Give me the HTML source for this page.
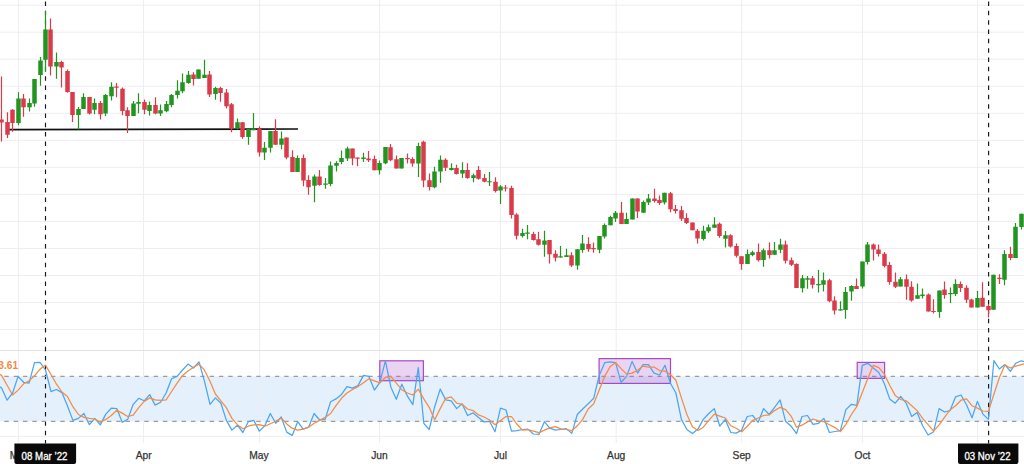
<!DOCTYPE html>
<html><head><meta charset="utf-8"><title>Chart</title>
<style>html,body{margin:0;padding:0;background:#fff;}body{width:1024px;height:464px;overflow:hidden;font-family:"Liberation Sans",sans-serif;}svg{display:block;}text{font-family:"Liberation Sans",sans-serif;}</style>
</head><body>
<svg width="1024" height="464" viewBox="0 0 1024 464">
<rect x="0" y="0" width="1024" height="464" fill="#ffffff"/>
<rect x="0" y="376.3" width="1024" height="45" fill="#e4f0fc"/>
<path d="M18.6 0V443 M143.6 0V443 M259.6 0V443 M379.5 0V443 M500.5 0V443 M616.2 0V443 M741.7 0V443 M862.4 0V443 M977.4 0V443 M0 5.2H1024 M0 32.2H1024 M0 59.2H1024 M0 86.2H1024 M0 113.3H1024 M0 140.3H1024 M0 167.3H1024 M0 194.4H1024 M0 221.4H1024 M0 248.4H1024 M0 275.5H1024 M0 302.5H1024 M0 329.5H1024 M0 405.8H1024 M0 436.3H1024" stroke="#edeef2" stroke-width="1" fill="none"/>
<path d="M0 350.5H1024" stroke="#e2e2e2" stroke-width="1" fill="none"/>
<path d="M45.5 1.5V443.5" stroke="#161616" stroke-width="1.15" stroke-dasharray="4.5 4.83" fill="none"/>
<path d="M988.6 1.5V443.5" stroke="#161616" stroke-width="1.15" stroke-dasharray="4.5 4.83" fill="none"/>
<path d="M6 129.7L298 129.0" stroke="#111" stroke-width="1.7" fill="none"/>
<path d="M18.5 92.3V125.3 M29.5 98.6V111.6 M34.5 79.0V106.8 M40.5 56.9V85.8 M45.5 10.8V72.0 M56.5 52.6V78.8 M78.5 107.0V129.4 M83.5 93.3V109.0 M94.5 98.6V114.2 M105.5 94.0V116.0 M111.5 82.3V100.5 M133.5 101.0V116.1 M138.5 93.3V113.2 M149.5 101.5V115.5 M160.5 104.4V116.1 M166.5 101.0V112.2 M171.5 94.0V107.3 M177.5 80.3V98.6 M182.5 73.5V93.3 M188.5 71.0V83.8 M198.5 69.5V78.7 M204.5 59.8V77.9 M215.5 86.7V99.8 M237.5 118.6V129.6 M248.5 129.0V144.7 M253.5 112.9V130.3 M264.5 142.0V159.9 M270.5 131.0V152.5 M281.5 131.6V149.2 M297.5 155.4V172.0 M314.5 174.6V202.3 M325.5 177.9V188.8 M330.5 161.5V186.3 M336.5 161.3V171.6 M341.5 150.5V164.2 M347.5 146.8V160.9 M363.5 152.7V161.9 M379.5 160.5V174.6 M385.5 147.0V164.2 M401.5 157.9V168.5 M418.5 142.7V176.9 M434.5 166.7V188.2 M440.5 155.4V182.7 M451.5 163.2V170.4 M462.5 162.2V177.9 M473.5 173.4V182.3 M489.5 172.0V186.0 M500.5 185.3V204.0 M522.5 228.8V237.6 M527.5 224.9V239.2 M544.5 230.8V256.8 M560.5 246.0V257.5 M566.5 248.8V257.1 M577.5 249.3V269.8 M582.5 235.1V252.7 M599.5 236.0V253.2 M604.5 223.4V238.6 M610.5 215.7V225.3 M615.5 210.9V222.0 M626.5 212.8V223.9 M632.5 198.6V219.5 M643.5 200.5V212.8 M648.5 194.0V205.0 M664.5 192.7V204.4 M703.5 225.8V240.6 M708.5 224.4V232.8 M714.5 217.2V227.7 M725.5 230.9V247.5 M747.5 249.4V264.1 M752.5 250.8V256.2 M763.5 248.4V266.8 M774.5 242.0V254.7 M780.5 238.7V253.3 M802.5 275.1V292.6 M807.5 276.0V288.8 M818.5 269.9V292.6 M823.5 272.6V291.4 M840.5 301.2V310.5 M845.5 287.1V318.8 M851.5 285.2V300.8 M862.5 261.4V288.5 M867.5 242.0V264.4 M900.5 277.0V286.5 M917.5 283.6V298.8 M922.5 288.5V298.4 M939.5 290.4V317.8 M950.5 287.5V303.1 M955.5 279.2V295.9 M977.5 291.0V307.6 M993.5 274.7V309.8 M1004.5 250.3V285.3 M1015.5 223.0V257.9 M1021.5 213.8V229.4" stroke="#229420" stroke-width="1.2" fill="none"/>
<path d="M1.5 76.4V141.5 M7.5 112.2V138.0 M12.5 109.3V131.8 M23.5 94.0V116.7 M50.5 18.5V75.4 M61.5 60.8V87.5 M67.5 69.6V92.7 M72.5 92.0V122.0 M89.5 97.0V114.4 M100.5 101.0V119.6 M116.5 83.0V97.2 M122.5 87.4V115.2 M127.5 107.3V133.1 M144.5 99.5V114.2 M155.5 97.2V114.2 M193.5 72.2V85.6 M209.5 71.0V96.9 M220.5 86.7V101.8 M226.5 89.0V108.6 M231.5 103.1V132.3 M242.5 122.2V138.8 M259.5 126.3V156.6 M275.5 119.3V144.7 M286.5 137.5V159.3 M292.5 150.2V172.0 M303.5 154.5V186.3 M308.5 175.2V194.7 M319.5 170.0V185.7 M352.5 148.6V165.2 M357.5 157.6V166.2 M368.5 151.1V161.9 M374.5 155.6V170.3 M390.5 144.0V161.2 M396.5 155.4V168.5 M407.5 153.4V163.6 M412.5 157.3V166.7 M423.5 140.7V187.2 M429.5 173.4V190.5 M445.5 158.3V171.0 M456.5 164.8V174.5 M467.5 163.2V178.8 M478.5 166.1V179.8 M484.5 173.9V182.3 M495.5 177.3V192.5 M505.5 185.0V191.6 M511.5 185.8V218.4 M516.5 213.2V239.6 M533.5 231.8V240.5 M538.5 231.8V245.4 M549.5 240.0V263.6 M555.5 250.3V261.6 M571.5 252.3V266.9 M588.5 237.2V251.7 M593.5 242.5V252.7 M621.5 201.9V223.9 M637.5 198.6V218.0 M654.5 188.8V202.5 M659.5 195.6V205.0 M670.5 192.1V212.2 M675.5 205.0V213.6 M681.5 206.0V221.0 M686.5 213.2V224.0 M692.5 222.4V230.2 M697.5 228.9V243.4 M719.5 222.5V237.7 M730.5 234.2V247.5 M736.5 243.6V257.6 M741.5 256.2V269.7 M758.5 243.4V261.5 M769.5 242.6V258.6 M785.5 240.4V263.4 M791.5 257.5V266.0 M796.5 263.3V288.0 M812.5 276.0V288.5 M829.5 278.7V302.3 M834.5 296.3V314.5 M856.5 278.5V289.0 M873.5 243.4V260.6 M878.5 244.5V256.5 M884.5 252.0V267.5 M889.5 262.1V284.8 M895.5 272.5V288.1 M906.5 274.4V299.8 M911.5 281.2V301.8 M928.5 293.4V311.5 M933.5 299.2V313.5 M944.5 281.6V298.8 M960.5 281.5V292.0 M966.5 285.2V303.1 M971.5 298.8V307.6 M982.5 282.3V306.7 M988.5 304.0V317.6 M999.5 274.2V283.9 M1010.5 246.8V260.3" stroke="#db3a4a" stroke-width="1.2" fill="none"/>
<path d="M16.25 98.6h4.5V123.0h-4.5Z M27.25 103.0h4.5V107.3h-4.5Z M32.25 79.0h4.5V103.4h-4.5Z M38.25 60.4h4.5V75.0h-4.5Z M43.25 29.6h4.5V59.8h-4.5Z M54.25 62.0h4.5V66.6h-4.5Z M76.25 109.0h4.5V115.0h-4.5Z M81.25 97.0h4.5V109.0h-4.5Z M92.25 103.0h4.5V109.7h-4.5Z M103.25 95.0h4.5V113.6h-4.5Z M109.25 86.8h4.5V96.2h-4.5Z M131.25 103.4h4.5V116.1h-4.5Z M136.25 102.0h4.5V103.8h-4.5Z M147.25 105.0h4.5V110.9h-4.5Z M158.25 110.3h4.5V113.6h-4.5Z M164.25 104.0h4.5V111.2h-4.5Z M169.25 95.0h4.5V105.0h-4.5Z M175.25 90.8h4.5V95.0h-4.5Z M180.25 82.2h4.5V91.3h-4.5Z M186.25 74.8h4.5V82.9h-4.5Z M196.25 69.5h4.5V78.7h-4.5Z M202.25 74.8h4.5V77.9h-4.5Z M213.25 88.0h4.5V94.0h-4.5Z M235.25 122.2h4.5V128.1h-4.5Z M246.25 129.0h4.5V137.0h-4.5Z M251.25 128.7h4.5V130.3h-4.5Z M262.25 147.8h4.5V152.5h-4.5Z M268.25 131.0h4.5V147.8h-4.5Z M279.25 138.4h4.5V144.7h-4.5Z M295.25 158.0h4.5V172.0h-4.5Z M312.25 176.5h4.5V185.7h-4.5Z M323.25 183.4h4.5V184.7h-4.5Z M328.25 165.4h4.5V184.0h-4.5Z M334.25 162.9h4.5V165.8h-4.5Z M339.25 158.0h4.5V161.9h-4.5Z M345.25 148.6h4.5V158.4h-4.5Z M361.25 157.4h4.5V159.0h-4.5Z M377.25 163.0h4.5V170.3h-4.5Z M383.25 147.0h4.5V163.3h-4.5Z M399.25 157.9h4.5V168.5h-4.5Z M416.25 146.0h4.5V163.6h-4.5Z M432.25 171.4h4.5V187.2h-4.5Z M438.25 159.7h4.5V171.4h-4.5Z M449.25 168.0h4.5V170.0h-4.5Z M460.25 170.0h4.5V173.4h-4.5Z M471.25 175.3h4.5V177.9h-4.5Z M487.25 181.2h4.5V182.3h-4.5Z M498.25 186.5h4.5V190.6h-4.5Z M520.25 233.1h4.5V236.0h-4.5Z M525.25 232.6h4.5V233.8h-4.5Z M542.25 240.5h4.5V244.8h-4.5Z M558.25 256.2h4.5V257.5h-4.5Z M564.25 255.2h4.5V257.1h-4.5Z M575.25 249.3h4.5V265.5h-4.5Z M580.25 243.5h4.5V249.9h-4.5Z M597.25 236.0h4.5V249.7h-4.5Z M602.25 224.9h4.5V236.6h-4.5Z M608.25 217.1h4.5V225.3h-4.5Z M613.25 212.8h4.5V218.5h-4.5Z M624.25 219.0h4.5V223.9h-4.5Z M630.25 198.6h4.5V219.5h-4.5Z M641.25 201.9h4.5V212.8h-4.5Z M646.25 198.6h4.5V202.5h-4.5Z M662.25 192.7h4.5V202.5h-4.5Z M701.25 230.7h4.5V239.0h-4.5Z M706.25 227.3h4.5V231.2h-4.5Z M712.25 224.4h4.5V227.7h-4.5Z M723.25 235.2h4.5V238.7h-4.5Z M745.25 254.1h4.5V264.1h-4.5Z M750.25 252.3h4.5V255.1h-4.5Z M761.25 250.2h4.5V260.0h-4.5Z M772.25 250.2h4.5V254.7h-4.5Z M778.25 244.5h4.5V249.8h-4.5Z M800.25 278.2h4.5V288.2h-4.5Z M805.25 278.2h4.5V279.7h-4.5Z M816.25 284.0h4.5V285.2h-4.5Z M821.25 280.2h4.5V284.7h-4.5Z M838.25 309.2h4.5V310.5h-4.5Z M843.25 292.0h4.5V310.0h-4.5Z M849.25 286.0h4.5V291.6h-4.5Z M860.25 261.4h4.5V286.5h-4.5Z M865.25 244.5h4.5V262.1h-4.5Z M898.25 279.3h4.5V286.5h-4.5Z M915.25 295.3h4.5V298.8h-4.5Z M920.25 294.5h4.5V295.9h-4.5Z M937.25 290.4h4.5V312.1h-4.5Z M948.25 293.0h4.5V294.3h-4.5Z M953.25 284.1h4.5V293.9h-4.5Z M975.25 297.9h4.5V307.6h-4.5Z M991.25 274.7h4.5V309.8h-4.5Z M1002.25 254.0h4.5V279.8h-4.5Z M1013.25 226.7h4.5V257.9h-4.5Z M1019.25 213.8h4.5V227.0h-4.5Z" fill="#229420"/>
<path d="M-0.75 119.6h4.5V122.6h-4.5Z M5.25 122.0h4.5V134.7h-4.5Z M10.25 109.7h4.5V123.0h-4.5Z M21.25 98.6h4.5V107.3h-4.5Z M48.25 29.6h4.5V66.6h-4.5Z M59.25 62.0h4.5V67.6h-4.5Z M65.25 71.0h4.5V92.0h-4.5Z M70.25 92.0h4.5V115.0h-4.5Z M87.25 97.0h4.5V113.6h-4.5Z M98.25 102.9h4.5V114.2h-4.5Z M114.25 86.4h4.5V87.8h-4.5Z M120.25 88.8h4.5V110.9h-4.5Z M125.25 110.3h4.5V116.1h-4.5Z M142.25 102.0h4.5V109.7h-4.5Z M153.25 105.0h4.5V113.6h-4.5Z M191.25 74.6h4.5V79.0h-4.5Z M207.25 74.4h4.5V94.5h-4.5Z M218.25 88.0h4.5V93.0h-4.5Z M224.25 92.6h4.5V106.2h-4.5Z M229.25 104.3h4.5V128.4h-4.5Z M240.25 122.2h4.5V137.0h-4.5Z M257.25 128.7h4.5V152.5h-4.5Z M273.25 131.0h4.5V144.7h-4.5Z M284.25 137.5h4.5V157.6h-4.5Z M290.25 157.0h4.5V172.0h-4.5Z M301.25 158.0h4.5V180.4h-4.5Z M306.25 180.0h4.5V187.3h-4.5Z M317.25 176.5h4.5V184.9h-4.5Z M350.25 148.6h4.5V158.4h-4.5Z M355.25 157.6h4.5V158.8h-4.5Z M366.25 158.5h4.5V160.3h-4.5Z M372.25 159.0h4.5V170.3h-4.5Z M388.25 147.2h4.5V160.3h-4.5Z M394.25 159.3h4.5V168.5h-4.5Z M405.25 157.9h4.5V159.3h-4.5Z M410.25 158.9h4.5V163.6h-4.5Z M421.25 141.7h4.5V180.4h-4.5Z M427.25 180.2h4.5V187.0h-4.5Z M443.25 159.7h4.5V167.7h-4.5Z M454.25 168.0h4.5V173.9h-4.5Z M465.25 170.0h4.5V177.9h-4.5Z M476.25 170.0h4.5V178.8h-4.5Z M482.25 177.9h4.5V181.8h-4.5Z M493.25 181.8h4.5V190.9h-4.5Z M503.25 187.4h4.5V188.6h-4.5Z M509.25 188.1h4.5V215.1h-4.5Z M514.25 214.6h4.5V235.7h-4.5Z M531.25 234.1h4.5V240.0h-4.5Z M536.25 239.2h4.5V244.8h-4.5Z M547.25 240.0h4.5V254.2h-4.5Z M553.25 253.8h4.5V257.7h-4.5Z M569.25 255.2h4.5V265.5h-4.5Z M586.25 244.0h4.5V249.3h-4.5Z M591.25 248.0h4.5V249.3h-4.5Z M619.25 212.8h4.5V223.9h-4.5Z M635.25 198.6h4.5V211.6h-4.5Z M652.25 198.6h4.5V200.9h-4.5Z M657.25 200.1h4.5V203.0h-4.5Z M668.25 193.3h4.5V209.3h-4.5Z M673.25 208.9h4.5V210.9h-4.5Z M679.25 210.3h4.5V218.7h-4.5Z M684.25 218.1h4.5V223.0h-4.5Z M690.25 222.4h4.5V230.2h-4.5Z M695.25 230.8h4.5V238.6h-4.5Z M717.25 223.8h4.5V236.1h-4.5Z M728.25 235.2h4.5V246.5h-4.5Z M734.25 245.9h4.5V255.7h-4.5Z M739.25 256.2h4.5V264.1h-4.5Z M756.25 252.1h4.5V260.2h-4.5Z M767.25 250.2h4.5V255.1h-4.5Z M783.25 244.5h4.5V260.8h-4.5Z M789.25 260.3h4.5V264.7h-4.5Z M794.25 264.1h4.5V288.0h-4.5Z M810.25 278.2h4.5V284.7h-4.5Z M827.25 280.2h4.5V301.2h-4.5Z M832.25 300.4h4.5V310.5h-4.5Z M854.25 286.0h4.5V289.0h-4.5Z M871.25 244.5h4.5V249.4h-4.5Z M876.25 249.4h4.5V254.0h-4.5Z M882.25 253.8h4.5V266.0h-4.5Z M887.25 265.0h4.5V282.1h-4.5Z M893.25 281.8h4.5V286.7h-4.5Z M904.25 279.3h4.5V286.7h-4.5Z M909.25 286.7h4.5V300.4h-4.5Z M926.25 294.5h4.5V311.5h-4.5Z M931.25 310.9h4.5V312.1h-4.5Z M942.25 289.5h4.5V294.9h-4.5Z M958.25 284.1h4.5V288.1h-4.5Z M964.25 287.7h4.5V299.8h-4.5Z M969.25 299.4h4.5V307.6h-4.5Z M980.25 297.7h4.5V306.7h-4.5Z M986.25 306.0h4.5V310.3h-4.5Z M997.25 277.8h4.5V279.0h-4.5Z M1008.25 254.0h4.5V257.9h-4.5Z" fill="#db3a4a"/>
<path d="M-5 376.3H1024" stroke="#9c9c9c" stroke-width="1.15" stroke-dasharray="4.4 4.93" fill="none"/>
<path d="M-5 421.3H1024" stroke="#9c9c9c" stroke-width="1.15" stroke-dasharray="4.4 4.93" fill="none"/>
<rect x="379.8" y="360.8" width="43.6" height="19.9" fill="rgba(170,70,200,0.24)" stroke="#a54cc4" stroke-width="1.2"/>
<rect x="599.1" y="358.6" width="71.4" height="24.8" fill="rgba(170,70,200,0.24)" stroke="#a54cc4" stroke-width="1.2"/>
<rect x="857.2" y="362.4" width="27.4" height="16.0" fill="rgba(170,70,200,0.24)" stroke="#a54cc4" stroke-width="1.2"/>
<polyline points="-3.8,384.2 1.6,388.1 7.1,400.2 12.6,393.0 18.1,376.4 23.6,382.3 29.1,383.2 34.5,362.7 40.0,362.4 45.5,370.0 51.0,391.6 56.5,389.5 61.9,392.6 67.4,405.7 72.9,420.4 78.4,418.4 83.9,413.5 89.4,424.7 94.8,418.4 100.3,424.9 105.8,414.1 111.3,408.2 116.8,408.6 122.2,422.3 127.7,419.4 133.2,404.3 138.7,398.3 144.2,400.8 149.7,394.6 155.1,405.1 160.6,402.2 166.1,393.0 171.6,378.8 177.1,376.4 182.6,370.0 188.0,364.1 193.5,368.0 199.0,361.8 204.5,381.3 210.0,404.3 215.4,397.9 220.9,403.2 226.4,420.4 231.9,430.1 237.4,425.2 242.9,432.5 248.3,421.7 253.8,420.4 259.3,431.1 264.8,425.8 270.3,413.5 275.7,423.3 281.2,417.0 286.7,432.1 292.2,435.4 297.7,421.7 303.2,429.1 308.6,427.2 314.1,413.5 319.6,420.0 325.1,419.4 330.6,401.8 336.0,398.9 341.5,394.4 347.0,386.6 352.5,388.1 358.0,385.6 363.5,375.4 368.9,376.4 374.4,390.1 379.9,382.3 385.4,360.8 390.9,387.2 396.3,399.3 401.8,384.2 407.3,395.9 412.8,404.7 418.3,367.6 423.8,423.3 429.2,429.5 434.7,406.7 440.2,389.1 445.7,399.9 451.2,400.8 456.7,408.6 462.1,403.8 467.6,415.5 473.1,412.9 478.6,417.4 484.1,421.9 489.5,421.3 495.0,431.7 500.5,408.2 506.0,410.0 511.5,431.1 517.0,430.7 522.4,429.5 527.9,429.1 533.4,434.0 538.9,434.4 544.4,421.7 549.8,428.2 555.3,430.1 560.8,429.5 566.3,428.6 571.8,433.4 577.3,414.5 582.7,409.0 588.2,403.8 593.7,398.3 599.2,375.4 604.7,362.7 610.1,361.8 615.6,362.7 621.1,382.3 626.6,376.4 632.1,361.4 637.6,373.1 643.0,364.7 648.5,364.7 654.0,373.1 659.5,375.0 665.0,365.3 670.4,383.2 675.9,393.0 681.4,419.4 686.9,429.5 692.4,433.6 697.9,429.1 703.3,419.4 708.8,413.5 714.3,408.6 719.8,426.2 725.3,419.4 730.8,432.5 736.2,433.1 741.7,430.1 747.2,416.5 752.7,415.5 758.2,422.3 763.6,408.6 769.1,414.5 774.6,407.3 780.1,399.9 785.6,421.3 791.1,426.2 796.5,433.6 802.0,416.5 807.5,415.5 813.0,424.3 818.5,423.3 823.9,418.4 829.4,432.5 834.9,431.5 840.4,430.7 845.9,409.6 851.4,404.3 856.8,405.3 862.3,365.3 867.8,363.3 873.3,368.0 878.8,372.5 884.2,383.2 889.7,398.9 895.2,403.2 900.7,396.5 906.2,403.2 911.7,416.5 917.1,412.5 922.6,425.8 928.1,435.0 933.6,431.7 939.1,408.6 944.5,412.0 950.0,410.6 955.5,396.9 961.0,395.0 966.5,404.7 972.0,417.8 977.4,401.4 982.9,414.1 988.4,419.4 993.9,360.7 999.4,369.0 1004.9,364.6 1010.3,371.3 1015.8,363.2 1021.3,360.8 1026.8,362.5" fill="none" stroke="#4aa5f2" stroke-width="1.25" stroke-linejoin="round"/>
<polyline points="-3.8,372.5 1.6,375.4 7.1,385.2 12.6,395.0 18.1,390.1 23.6,383.8 29.1,380.9 34.5,375.8 40.0,369.2 45.5,365.1 51.0,374.5 56.5,384.2 61.9,392.0 67.4,396.5 72.9,406.7 78.4,414.5 83.9,417.4 89.4,418.4 94.8,419.0 100.3,422.3 105.8,419.4 111.3,415.5 116.8,410.2 122.2,413.1 127.7,416.5 133.2,415.1 138.7,407.7 144.2,401.4 149.7,397.9 155.1,399.9 160.6,400.4 166.1,399.9 171.6,391.5 177.1,383.2 182.6,375.4 188.0,370.9 193.5,367.2 199.0,364.1 204.5,370.2 210.0,381.3 215.4,394.0 220.9,400.8 226.4,407.7 231.9,418.4 237.4,424.7 242.9,428.8 248.3,426.2 253.8,424.9 259.3,424.7 264.8,426.2 270.3,423.7 275.7,421.3 281.2,418.0 286.7,423.9 292.2,428.2 297.7,430.1 303.2,429.1 308.6,427.2 314.1,423.3 319.6,420.4 325.1,417.4 330.6,413.5 336.0,405.7 341.5,398.3 347.0,393.0 352.5,389.5 358.0,386.6 363.5,382.7 368.9,378.8 374.4,380.9 379.9,382.9 385.4,377.4 390.9,376.4 396.3,383.2 401.8,389.7 407.3,393.0 412.8,395.0 418.3,389.1 423.8,398.9 429.2,407.3 434.7,419.8 440.2,408.6 445.7,398.3 451.2,396.9 456.7,403.2 462.1,404.3 467.6,409.0 473.1,410.6 478.6,414.9 484.1,417.0 489.5,420.0 495.0,424.7 500.5,420.4 506.0,416.5 511.5,416.5 517.0,424.3 522.4,430.1 527.9,429.7 533.4,431.1 538.9,432.7 544.4,430.1 549.8,427.8 555.3,426.6 560.8,428.8 566.3,429.5 571.8,430.7 577.3,425.8 582.7,419.4 588.2,409.0 593.7,403.8 599.2,390.1 604.7,376.4 610.1,366.6 615.6,362.7 621.1,368.6 626.6,374.1 632.1,373.1 637.6,370.2 643.0,366.1 648.5,367.2 654.0,367.0 659.5,370.6 665.0,371.1 670.4,374.5 675.9,380.3 681.4,397.9 686.9,414.5 692.4,426.8 697.9,430.5 703.3,427.2 708.8,420.4 714.3,414.1 719.8,416.1 725.3,418.0 730.8,425.8 736.2,428.2 741.7,431.7 747.2,426.2 752.7,420.4 758.2,418.0 763.6,415.5 769.1,414.9 774.6,410.6 780.1,407.3 785.6,409.6 791.1,416.1 796.5,427.2 802.0,425.2 807.5,421.9 813.0,419.0 818.5,420.8 823.9,421.7 829.4,424.7 834.9,427.6 840.4,431.5 845.9,424.3 851.4,414.5 856.8,406.7 862.3,392.6 867.8,378.4 873.3,365.3 878.8,367.6 884.2,373.9 889.7,385.2 895.2,395.4 900.7,399.5 906.2,400.8 911.7,405.7 917.1,410.6 922.6,418.4 928.1,424.7 933.6,431.1 939.1,424.9 944.5,417.4 950.0,410.0 955.5,405.7 961.0,400.2 966.5,398.9 972.0,405.7 977.4,408.1 982.9,411.0 988.4,411.3 993.9,394.2 999.4,377.5 1004.9,364.9 1010.3,368.0 1015.8,366.2 1021.3,364.6 1026.8,363.0" fill="none" stroke="#f48c45" stroke-width="1.25" stroke-linejoin="round"/>
<text x="18.1" y="368.7" text-anchor="end" font-size="10.2" font-weight="bold" fill="#f58a42">93.61</text>
<text x="18.6" y="459.4" text-anchor="middle" font-size="10.25" fill="#333" stroke="#333" stroke-width="0.25">Mar</text>
<text x="143.7" y="459.4" text-anchor="middle" font-size="10.25" fill="#333" stroke="#333" stroke-width="0.25">Apr</text>
<text x="258.9" y="459.4" text-anchor="middle" font-size="10.25" fill="#333" stroke="#333" stroke-width="0.25">May</text>
<text x="379.4" y="459.4" text-anchor="middle" font-size="10.25" fill="#333" stroke="#333" stroke-width="0.25">Jun</text>
<text x="500.5" y="459.4" text-anchor="middle" font-size="10.25" fill="#333" stroke="#333" stroke-width="0.25">Jul</text>
<text x="616.2" y="459.4" text-anchor="middle" font-size="10.25" fill="#333" stroke="#333" stroke-width="0.25">Aug</text>
<text x="741.7" y="459.4" text-anchor="middle" font-size="10.25" fill="#333" stroke="#333" stroke-width="0.25">Sep</text>
<text x="862.4" y="459.4" text-anchor="middle" font-size="10.25" fill="#333" stroke="#333" stroke-width="0.25">Oct</text>
<text x="977.4" y="459.4" text-anchor="middle" font-size="10.25" fill="#333" stroke="#333" stroke-width="0.25">Nov</text>
<path d="M14.4 443.6H76.1V462a2 2 0 0 1 -2 2H16.4a2 2 0 0 1 -2 -2Z" fill="#0a0a0a"/>
<text x="44.5" y="459.5" text-anchor="middle" font-size="10.2" fill="#ffffff" stroke="#fff" stroke-width="0.3" textLength="46" lengthAdjust="spacingAndGlyphs">08 Mar ’22</text>
<path d="M958.0 443.6H1018.4V462a2 2 0 0 1 -2 2H960.0a2 2 0 0 1 -2 -2Z" fill="#0a0a0a"/>
<text x="987.5" y="459.5" text-anchor="middle" font-size="10.2" fill="#ffffff" stroke="#fff" stroke-width="0.3" textLength="46" lengthAdjust="spacingAndGlyphs">03 Nov ’22</text>
</svg></body></html>
